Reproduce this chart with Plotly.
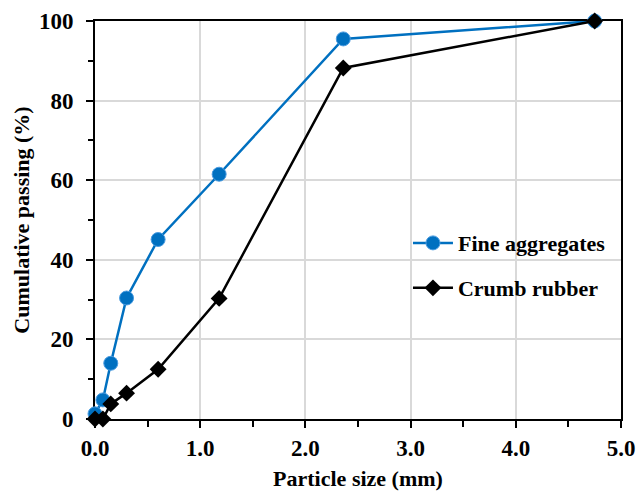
import plotly.graph_objects as go

sieve_fine = [0.0, 0.075, 0.15, 0.3, 0.6, 1.18, 2.36, 4.75]
passing_fine = [1.3, 4.8, 14.0, 30.4, 45.1, 61.5, 95.5, 100.0]
sieve_rubber = [0.0, 0.075, 0.15, 0.3, 0.6, 1.18, 2.36, 4.75]
passing_rubber = [0.0, 0.0, 3.8, 6.5, 12.5, 30.3, 88.2, 100.0]

font_fam = "Liberation Serif, Times New Roman, serif"

fig = go.Figure()
fig.add_trace(go.Scatter(
    x=sieve_fine, y=passing_fine, mode="lines+markers", name="Fine aggregates",
    line=dict(color="#0070C0", width=2.5),
    marker=dict(symbol="circle", size=14, color="#0070C0",
                line=dict(color="#4A9BE0", width=1)),
    legend="legend", cliponaxis=False,
))
fig.add_trace(go.Scatter(
    x=sieve_rubber, y=passing_rubber, mode="lines+markers", name="Crumb rubber",
    line=dict(color="#000000", width=2.5),
    marker=dict(symbol="diamond", size=13, color="#000000"),
    legend="legend2", cliponaxis=False,
))

tick_font = dict(family=font_fam, size=23, color="black", weight="bold")
axis_common = dict(
    showline=True, linecolor="black", linewidth=2, mirror=True,
    ticks="outside", ticklen=7, tickwidth=2, tickcolor="black",
    showgrid=True, gridcolor="#D9D9D9", gridwidth=1.5,
    zeroline=False, automargin=False,
    tickfont=tick_font, layer="below traces",
)

fig.update_xaxes(
    range=[0, 5], dtick=1, tickformat=".1f", ticklabelstandoff=0,
    minor=dict(dtick=0.5, ticks="outside", ticklen=6, tickwidth=2, tickcolor="black", showgrid=False),
    title=dict(text="<b>Particle size (mm)</b>", font=dict(family=font_fam, size=22, color="black"), standoff=12),
    **axis_common,
)
fig.update_yaxes(
    range=[0, 100], dtick=20, ticklabelstandoff=8,
    minor=dict(dtick=10, ticks="outside", ticklen=5, tickwidth=2, tickcolor="black", showgrid=False),
    title=dict(text="<b>Cumulative passing (%)</b>", font=dict(family=font_fam, size=22, color="black"), standoff=3),
    **axis_common,
)

leg_common = dict(
    xanchor="left", yanchor="middle",
    bgcolor="rgba(255,255,255,0)",
    font=dict(family=font_fam, size=22, color="black", weight="bold"),
    itemwidth=40,
)

fig.update_layout(
    width=637, height=491,
    margin=dict(l=95, r=16, t=21, b=72),
    plot_bgcolor="white", paper_bgcolor="white",
    showlegend=True,
    legend=dict(x=0.595, y=0.442, **leg_common),
    legend2=dict(x=0.595, y=0.329, **leg_common),
)

fig.write_html("out.html", config={"displayModeBar": False},
               post_script="document.body.style.margin='0';")
